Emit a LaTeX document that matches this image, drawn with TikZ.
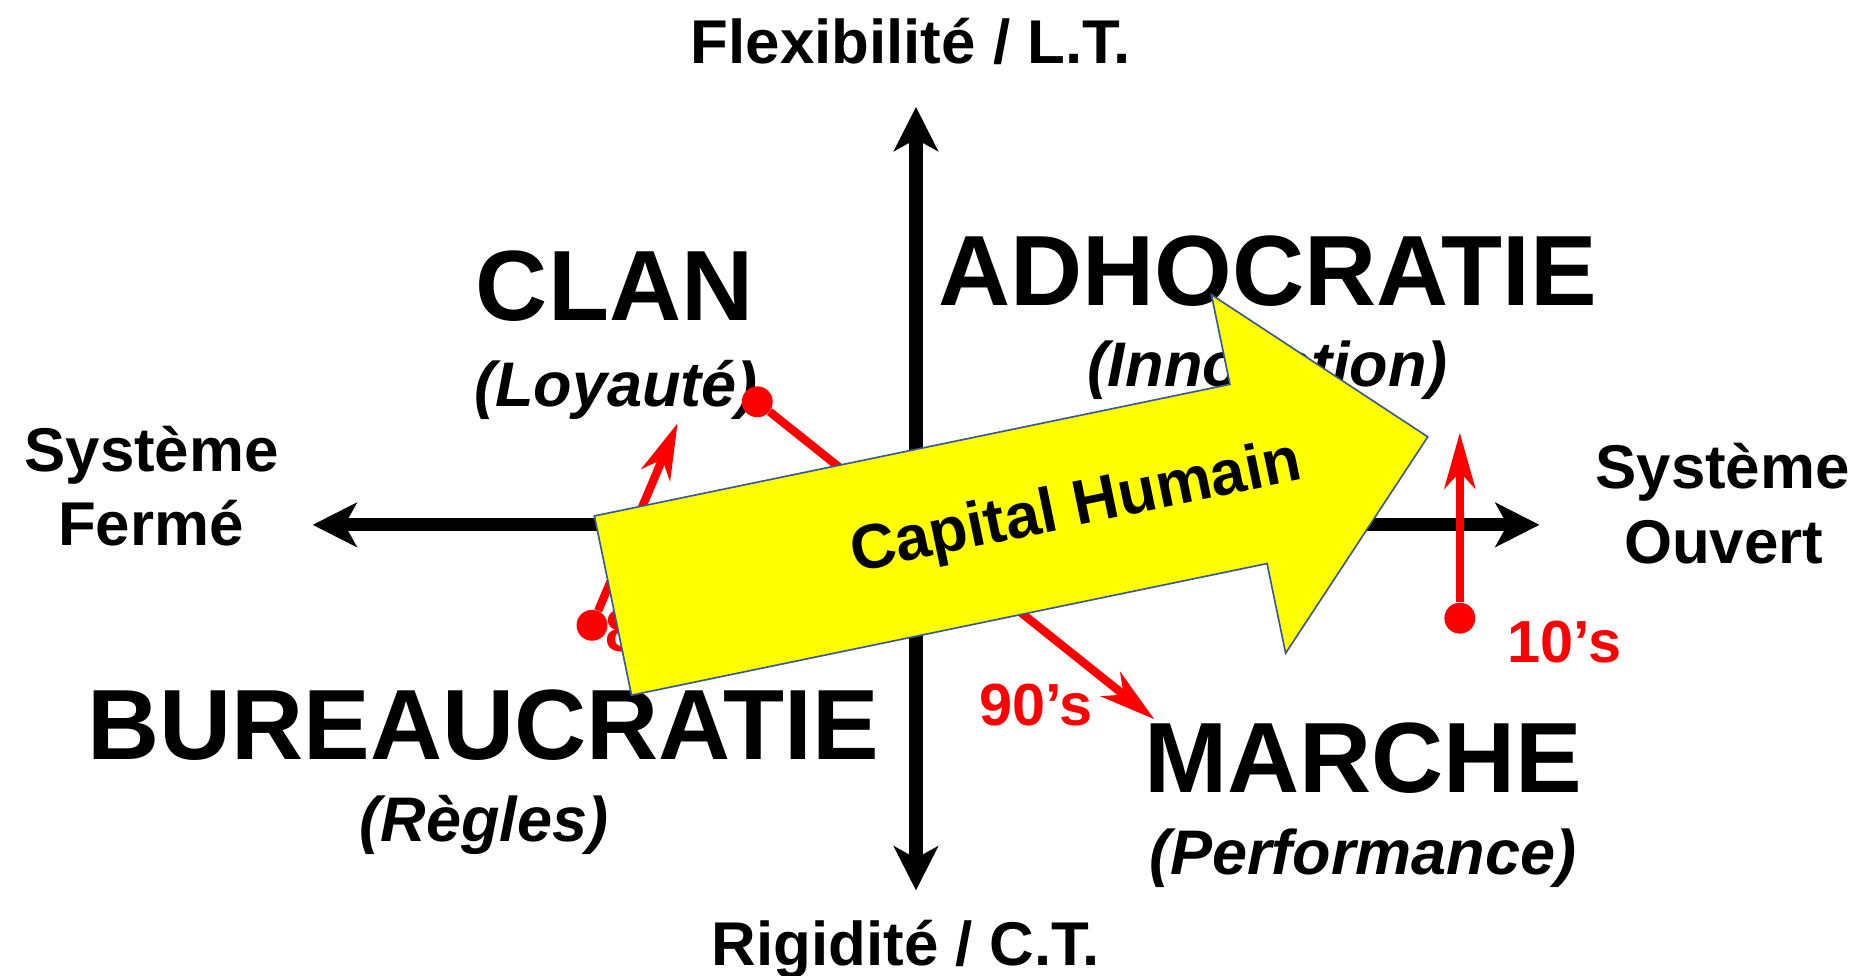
\documentclass[tikz,border=0pt]{standalone}
\usepackage{fontspec}
\setmainfont{Liberation Sans}
\usetikzlibrary{arrows.meta}
\definecolor{arrowyellow}{RGB}{255,255,0}
\definecolor{arrowedge}{RGB}{59,89,152}
\definecolor{trendred}{RGB}{255,0,0}

\begin{document}
\begin{tikzpicture}[x=1pt,y=-1pt,
  axis/.style={line width=11pt,
    {Stealth[length=37pt,width=37pt,inset=10pt]}-{Stealth[length=37pt,width=37pt,inset=10pt]}},
  axislabel/.style={font=\bfseries\fontsize{52}{52}\selectfont, anchor=base, inner sep=0pt},
  quadrant/.style={font=\bfseries\fontsize{84}{84}\selectfont, anchor=base, inner sep=0pt},
  motto/.style={font=\bfseries\itshape\fontsize{53}{53}\selectfont, anchor=base, inner sep=0pt},
  era/.style={font=\bfseries\fontsize{50}{50}\selectfont, text=trendred, anchor=base, inner sep=0pt},
  dot/.style={circle, fill=trendred, inner sep=0pt, minimum size=26pt},
  trend/.style={draw=trendred, line width=7pt,
    -{Stealth[length=47pt,width=26pt,inset=14pt]}},
  bigarrow/.style={fill=arrowyellow, draw=arrowedge, line width=1.4pt, line join=miter}
]
% canvas
\fill[white] (0,0) rectangle (1568,821);
\useasboundingbox (0,0) rectangle (1568,821);

% axes
\coordinate (top) at (770.5,90);
\coordinate (bottom) at (770.5,749);
\coordinate (left) at (263,441.5);
\coordinate (right) at (1295,441.5);
\draw[axis] (bottom) -- (top);
\draw[axis] (right) -- (left);

% axis labels
\node[axislabel] (flex) at (766,53) {Flexibilité / L.T.};
\node[axislabel] (rigid) at (762,812) {Rigidité / C.T.};
\node[axislabel] (fermeA) at (127.5,397) {Système};
\node[axislabel] (fermeB) at (127,458.5) {Fermé};
\node[axislabel] (ouvertA) at (1449,411) {Système};
\node[axislabel] (ouvertB) at (1450,474) {Ouvert};

% quadrants
\node[quadrant] (clan) at (517,270) {CLAN};
\node[motto] (loyal) at (518,342) {(Loyauté)};
\node[quadrant] (adho) at (1066.5,257) {ADHOCRATIE};
\node[motto] (innov) at (1066,325) {(Innovation)};
\node[quadrant] (bureau) at (406.5,638.5) {BUREAUCRATIE};
\node[motto] (regles) at (407,708) {(Règles)};
\node[quadrant] (marche) at (1147,667) {MARCHE};
\node[motto] (perf) at (1146.5,736) {(Performance)};

% trends by decade
\node[dot] (d80) at (498,526) {};
\coordinate (t80) at (570,356);
\node[era, anchor=base west] (y80) at (509,548) {80’s};
\draw[trend] (d80) -- (t80);

\node[dot] (d90) at (637,338) {};
\coordinate (t90) at (971,605);
\node[era] (y90) at (871.5,610) {90’s};
\draw[trend] (d90) -- (t90);

\node[dot] (d10) at (1228,520) {};
\coordinate (t10) at (1228,364);
\node[era] (y10) at (1316,557) {10’s};
\draw[trend] (d10) -- (t10);

% human capital arrow
\begin{scope}[shift={(500,434)}, rotate=11.7]
  \draw[bigarrow] (0,0) -- (546,0) -- (546,-77) -- (700,77) -- (546,231)
    -- (546,154) -- (0,154) -- cycle;
  \node[transform shape, font=\bfseries\fontsize{53}{53}\selectfont, inner sep=0pt]
    (capital) at (398,77) {Capital Humain};
\end{scope}
\end{tikzpicture}
\end{document}
